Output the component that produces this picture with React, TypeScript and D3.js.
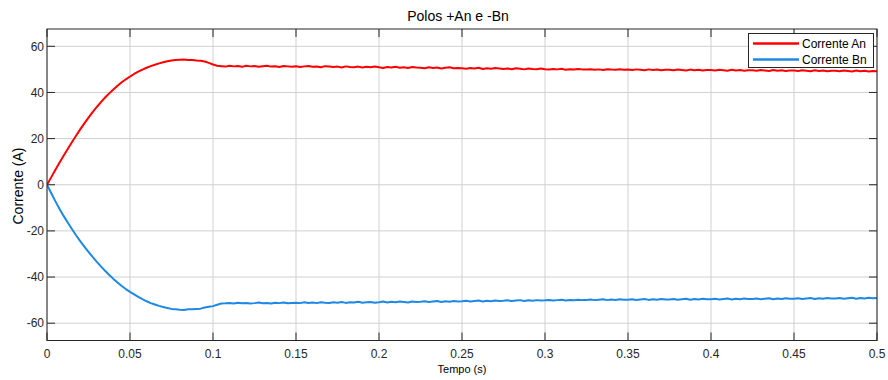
import React from "react";
import * as d3 from "d3";

const TITLE = "Polos +An e -Bn";
const X_LABEL = "Tempo (s)";
const Y_LABEL = "Corrente (A)";
const X_TICKS = [0, 0.05, 0.1, 0.15, 0.2, 0.25, 0.3, 0.35, 0.4, 0.45, 0.5];
const X_TICK_LABELS = ["0", "0.05", "0.1", "0.15", "0.2", "0.25", "0.3", "0.35", "0.4", "0.45", "0.5"];
const Y_TICKS = [-60, -40, -20, 0, 20, 40, 60];
const SERIES_NAMES = ["Corrente An", "Corrente Bn"];
const SAMPLE_STEP = 0.0025;

const correnteAn = [
  0, 3.2, 6.4, 9.5, 12.6, 15.5, 18.4, 21.2, 24.0, 26.6,
  29.1, 31.5, 33.7, 35.8, 37.8, 39.6, 41.3, 42.9, 44.4, 45.7,
  46.9, 48.0, 49.0, 49.9, 50.7, 51.4, 52.0, 52.6, 53.1, 53.5,
  53.8, 54.1, 54.2, 54.3, 54.1, 54.1, 53.8, 53.7, 53.4, 52.8,
  52.1, 51.6, 51.4, 51.2, 51.6, 51.3, 51.5, 51.1, 51.6, 51.3,
  51.5, 51.1, 51.4, 51.6, 51.2, 51.4, 51.0, 51.5, 51.3, 51.1,
  51.4, 51.0, 51.3, 51.5, 51.1, 51.2, 50.9, 51.4, 51.2, 51.0,
  51.2, 50.8, 51.3, 51.0, 50.9, 51.2, 50.8, 51.1, 50.9, 51.2,
  50.9, 50.6, 51.0, 50.8, 51.1, 50.7, 50.9, 50.6, 51.0, 50.8,
  50.7, 50.5, 50.9, 50.6, 50.8, 50.4, 50.7, 50.9, 50.5, 50.6,
  50.5, 50.3, 50.6, 50.4, 50.7, 50.2, 50.5, 50.3, 50.6, 50.4,
  50.2, 50.4, 50.1, 50.5, 50.3, 50.0, 50.4, 50.2, 50.1, 50.4,
  50.1, 49.9, 50.2, 50.0, 50.3, 49.8, 50.1, 49.9, 50.2, 50.0,
  49.9, 50.1, 49.8, 50.0, 49.7, 50.1, 49.9, 49.8, 50.1, 49.8,
  49.9, 49.7, 50.0, 49.8, 49.6, 50.0, 49.7, 49.9, 49.6, 49.8,
  49.8, 49.6, 49.9, 49.7, 49.5, 49.9, 49.6, 49.8, 49.5, 49.7,
  49.7, 49.5, 49.8, 49.6, 49.4, 49.8, 49.5, 49.7, 49.4, 49.6,
  49.6, 49.4, 49.7, 49.5, 49.3, 49.7, 49.4, 49.6, 49.3, 49.5,
  49.5, 49.3, 49.6, 49.4, 49.2, 49.6, 49.3, 49.5, 49.2, 49.4,
  49.4, 49.2, 49.5, 49.3, 49.1, 49.5, 49.2, 49.4, 49.1, 49.3,
  49.2,
];

const correnteBn = [
  0, -3.6, -7.1, -10.4, -13.5, -16.4, -19.2, -21.9, -24.4, -26.8,
  -29.1, -31.3, -33.4, -35.4, -37.3, -39.1, -40.8, -42.4, -43.9, -45.2,
  -46.4, -47.5, -48.6, -49.6, -50.5, -51.3, -51.9, -52.5, -53.0, -53.4,
  -53.8, -54.0, -54.2, -54.3, -54.0, -54.0, -53.8, -53.7, -53.2, -52.9,
  -52.6, -52.0, -51.5, -51.4, -51.2, -51.5, -51.1, -51.4, -51.2, -51.5,
  -51.3, -51.0, -51.4, -51.2, -51.5, -51.1, -51.3, -51.0, -51.4, -51.2,
  -51.1, -51.3, -50.9, -51.2, -51.0, -51.3, -50.9, -51.1, -51.2, -50.9,
  -51.1, -50.8, -51.2, -50.9, -51.0, -50.7, -51.1, -50.9, -50.8, -51.1,
  -50.9, -50.6, -51.0, -50.7, -50.9, -50.6, -50.8, -51.0, -50.6, -50.8,
  -50.7, -50.5, -50.8, -50.6, -50.4, -50.8, -50.5, -50.7, -50.4, -50.6,
  -50.5, -50.3, -50.6, -50.4, -50.2, -50.6, -50.3, -50.5, -50.2, -50.4,
  -50.3, -50.1, -50.4, -50.2, -50.0, -50.4, -50.1, -50.3, -50.0, -50.2,
  -50.1, -49.9, -50.2, -50.0, -49.8, -50.2, -49.9, -50.1, -49.8, -50.0,
  -49.9, -49.7, -50.0, -49.8, -49.6, -50.0, -49.7, -49.9, -49.6, -49.8,
  -49.8, -49.6, -49.9, -49.7, -49.5, -49.9, -49.6, -49.8, -49.5, -49.7,
  -49.7, -49.5, -49.8, -49.6, -49.4, -49.8, -49.5, -49.7, -49.4, -49.6,
  -49.6, -49.4, -49.7, -49.5, -49.3, -49.7, -49.4, -49.6, -49.3, -49.5,
  -49.5, -49.3, -49.6, -49.4, -49.2, -49.6, -49.3, -49.5, -49.2, -49.4,
  -49.4, -49.2, -49.5, -49.3, -49.1, -49.5, -49.2, -49.4, -49.1, -49.3,
  -49.3, -49.1, -49.4, -49.2, -49.0, -49.4, -49.1, -49.3, -49.0, -49.2,
  -49.1,
];

const COLORS = ["#ff0000", "#1e88e5"];
const FONT = "'Liberation Sans', Arial, Helvetica, sans-serif";

export default function App() {
  const W = 888, H = 380;
  const L = 47, R = 877, T = 29, B = 340.5;
  const x = d3.scaleLinear().domain([0, 0.5]).range([L, R]);
  const y = d3.scaleLinear().domain([-67.5, 67.5]).range([B, T]);
  const line = d3
    .line<number>()
    .x((_, i) => x(i * SAMPLE_STEP))
    .y((d) => y(d));
  const series = [correnteAn, correnteBn];
  const axisColor = "#262626";
  const tickLen = 8;

  return (
    <svg width={W} height={H} style={{ position: "absolute", left: 0, top: 0 }} fontFamily={FONT}>
      <rect x={0} y={0} width={W} height={H} fill="#fff" />
      {/* grid */}
      {X_TICKS.map((t) => (
        <line key={"gx" + t} x1={x(t)} x2={x(t)} y1={T} y2={B} stroke="#d0d0d0" strokeWidth={1} />
      ))}
      {Y_TICKS.map((t) => (
        <line key={"gy" + t} x1={L} x2={R} y1={y(t)} y2={y(t)} stroke="#d0d0d0" strokeWidth={1} />
      ))}
      {/* data */}
      <g clipPath="url(#clip)">
        {series.map((s, k) => (
          <path key={k} d={line(s) || ""} fill="none" stroke={COLORS[k]} strokeWidth={2} strokeLinejoin="round" />
        ))}
      </g>
      <defs>
        <clipPath id="clip">
          <rect x={L} y={T} width={R - L} height={B - T} />
        </clipPath>
      </defs>
      {/* ticks */}
      {X_TICKS.map((t) => (
        <g key={"tx" + t}>
          <line x1={x(t)} x2={x(t)} y1={B} y2={B - tickLen} stroke={axisColor} />
          <line x1={x(t)} x2={x(t)} y1={T} y2={T + tickLen} stroke={axisColor} />
        </g>
      ))}
      {Y_TICKS.map((t) => (
        <g key={"ty" + t}>
          <line x1={L} x2={L + tickLen} y1={y(t)} y2={y(t)} stroke={axisColor} />
          <line x1={R} x2={R - tickLen} y1={y(t)} y2={y(t)} stroke={axisColor} />
        </g>
      ))}
      {/* box */}
      <rect x={L} y={T} width={R - L} height={B - T} fill="none" stroke={axisColor} strokeWidth={1} />
      {/* tick labels */}
      {X_TICKS.map((t, i) => (
        <text key={"lx" + t} x={x(t)} y={357.5} textAnchor="middle" fontSize={12} fill={axisColor}>
          {X_TICK_LABELS[i]}
        </text>
      ))}
      {Y_TICKS.map((t) => (
        <text key={"ly" + t} x={44} y={y(t) + 4.3} textAnchor="end" fontSize={12} fill={axisColor}>
          {String(t)}
        </text>
      ))}
      {/* labels */}
      <text x={458} y={21} textAnchor="middle" fontSize={14} fill="#000">{TITLE}</text>
      <text x={462} y={373} textAnchor="middle" fontSize={11} fill="#000">{X_LABEL}</text>
      <text transform={`translate(23,186) rotate(-90)`} textAnchor="middle" fontSize={14} fill="#000">{Y_LABEL}</text>
      {/* legend */}
      <rect x={748.5} y={33.5} width={125} height={34} fill="#fff" stroke={axisColor} strokeWidth={1} />
      {SERIES_NAMES.map((n, k) => (
        <g key={n}>
          <line x1={753} x2={799} y1={43.5 + k * 16} y2={43.5 + k * 16} stroke={COLORS[k]} strokeWidth={2.5} />
          <text x={802} y={47.8 + k * 16} fontSize={12} fill="#000">{n}</text>
        </g>
      ))}
    </svg>
  );
}
